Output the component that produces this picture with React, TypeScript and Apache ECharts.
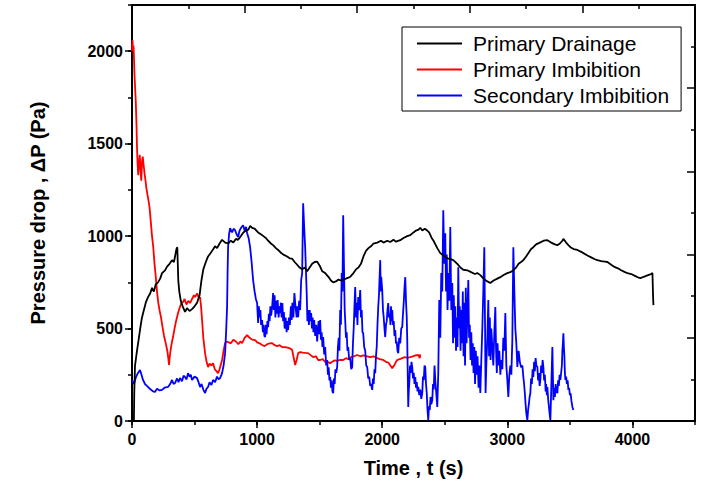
import React, { useEffect, useRef } from "react";
import * as echarts from "echarts";

// Time (s) and pressure drop (Pa) samples for each displacement stage
const primaryDrainage: [number, number][] = [
  [15, 0], [18, 150], [24, 300], [32, 340], [40, 380], [55, 450], [70, 520], [80, 560], [95, 600], [110, 640],
  [128, 670], [145, 690], [160, 720], [175, 700], [190, 740], [208, 750], [225, 770], [240, 800], [264, 815],
  [280, 835], [300, 850], [320, 870], [335, 860], [344, 890], [355, 930], [362, 940], [366, 850], [370, 760],
  [378, 700], [390, 650], [405, 620], [424, 590], [440, 610], [460, 595], [480, 605], [500, 620], [520, 640],
  [540, 680], [555, 760], [570, 820], [590, 860], [608, 890], [630, 910], [650, 930], [664, 945], [680, 935],
  [700, 960], [720, 980], [745, 965], [768, 960], [790, 975], [810, 965], [830, 985], [848, 980], [870, 1000],
  [890, 1020], [910, 1030], [930, 1035], [945, 1055], [960, 1045], [980, 1040], [1008, 1020], [1030, 1010],
  [1050, 1000], [1070, 990], [1088, 975], [1110, 960], [1130, 950], [1150, 935], [1168, 925], [1190, 910],
  [1210, 900], [1240, 890], [1260, 880], [1280, 878], [1300, 860], [1320, 845], [1340, 830], [1360, 820],
  [1380, 830], [1400, 810], [1420, 830], [1440, 850], [1460, 860], [1480, 862], [1500, 840], [1520, 810],
  [1544, 800], [1570, 780], [1590, 760], [1608, 750], [1630, 755], [1650, 765], [1670, 760], [1688, 765],
  [1710, 770], [1730, 775], [1744, 780], [1770, 800], [1790, 820], [1810, 830], [1830, 850], [1850, 890],
  [1870, 920], [1890, 935], [1910, 945], [1930, 960], [1960, 965], [1990, 975], [2010, 965], [2040, 975],
  [2064, 968], [2090, 980], [2110, 970], [2144, 978], [2170, 990], [2200, 1000], [2224, 1005], [2250, 1020],
  [2270, 1030], [2290, 1035], [2304, 1045], [2320, 1030], [2340, 1040], [2360, 1030], [2375, 1020],
  [2395, 990], [2410, 975], [2440, 935], [2464, 908], [2490, 895], [2520, 880], [2545, 875], [2568, 870],
  [2600, 850], [2625, 830], [2648, 818], [2680, 815], [2710, 805], [2740, 795], [2760, 800], [2784, 789],
  [2810, 770], [2840, 755], [2864, 746], [2890, 760], [2920, 770], [2944, 778], [2970, 790], [3000, 800],
  [3024, 805], [3048, 816], [3070, 830], [3090, 850], [3110, 860], [3128, 870], [3150, 890], [3170, 910],
  [3190, 930], [3208, 940], [3230, 955], [3260, 965], [3290, 975], [3320, 978], [3350, 965], [3380, 955],
  [3400, 951], [3420, 960], [3440, 975], [3448, 985], [3470, 965], [3490, 950], [3504, 940], [3530, 930],
  [3560, 925], [3590, 915], [3608, 908], [3640, 895], [3670, 885], [3700, 875], [3720, 870], [3750, 865],
  [3780, 862], [3800, 860], [3830, 845], [3860, 832], [3880, 827], [3910, 815], [3940, 805], [3960, 800],
  [3990, 795], [4020, 785], [4050, 775], [4064, 773], [4090, 780], [4110, 785], [4130, 790], [4150, 795],
  [4160, 800], [4163, 720], [4166, 650], [4168, 627],
];

const primaryImbibition: [number, number][] = [
  [0, 2000], [4, 2060], [8, 2010], [12, 2030], [16, 1960], [20, 1870], [25, 1800], [30, 1730], [36, 1600],
  [40, 1480], [44, 1400], [50, 1330], [56, 1400], [62, 1440], [68, 1360], [74, 1300], [80, 1400], [86, 1430],
  [92, 1390], [100, 1340], [108, 1300], [115, 1260], [122, 1230], [130, 1200], [140, 1157], [150, 1080],
  [160, 1000], [170, 940], [180, 850], [190, 780], [200, 700], [210, 640], [220, 600], [232, 560], [244, 508],
  [256, 460], [270, 420], [282, 380], [290, 340], [296, 303], [304, 360], [312, 400], [320, 430], [328, 454],
  [340, 500], [352, 540], [368, 584], [380, 610], [395, 640], [408, 643], [420, 660], [435, 630], [450, 650],
  [464, 638], [480, 660], [495, 680], [504, 670], [520, 690], [535, 665], [544, 670], [552, 620], [560, 546],
  [570, 450], [584, 367], [596, 320], [608, 292], [620, 310], [635, 300], [648, 313], [662, 280], [675, 270],
  [688, 259], [700, 280], [712, 310], [720, 330], [732, 380], [744, 421], [756, 430], [768, 427], [790, 420],
  [810, 440], [830, 430], [850, 415], [866, 430], [880, 421], [900, 450], [920, 465], [940, 450], [960, 440],
  [984, 438], [1000, 425], [1020, 420], [1040, 411], [1060, 405], [1080, 415], [1100, 420], [1120, 421],
  [1140, 410], [1160, 405], [1180, 410], [1200, 400], [1224, 400], [1250, 395], [1270, 390], [1280, 384],
  [1290, 350], [1304, 303], [1316, 330], [1328, 367], [1345, 373], [1365, 370], [1385, 368], [1408, 367],
  [1430, 355], [1448, 346], [1470, 350], [1488, 330], [1504, 330], [1525, 335], [1544, 319], [1565, 318],
  [1584, 313], [1600, 320], [1620, 328], [1640, 325], [1660, 330], [1688, 330], [1710, 340], [1730, 335],
  [1750, 345], [1775, 350], [1800, 357], [1825, 350], [1850, 355], [1880, 350], [1904, 346], [1930, 350],
  [1960, 340], [1980, 335], [2008, 330], [2030, 320], [2050, 315], [2065, 300], [2080, 286], [2095, 300],
  [2110, 320], [2120, 330], [2140, 335], [2160, 340], [2180, 345], [2200, 342], [2224, 346], [2245, 350],
  [2265, 355], [2288, 357], [2300, 340], [2304, 360],
];

const secondaryImbibition: [number, number][] = [
  [0, 222], [16, 200], [32, 238], [48, 260], [64, 276], [76, 250], [88, 222], [104, 200], [128, 184], [150, 170],
  [168, 160], [184, 157], [200, 175], [220, 165], [240, 168], [260, 180], [288, 184], [305, 200], [320, 222],
  [332, 200], [344, 205], [360, 230], [372, 210], [384, 232], [400, 215], [412, 245], [424, 238], [436, 225],
  [448, 259], [460, 240], [470, 250], [480, 222], [500, 240], [520, 232], [532, 210], [544, 184], [556, 200],
  [570, 170], [584, 151], [596, 175], [608, 184], [620, 210], [635, 195], [648, 222], [664, 210], [680, 240],
  [692, 225], [704, 232], [712, 245], [720, 259], [732, 300], [744, 367], [752, 480], [760, 616], [764, 800],
  [768, 940], [776, 1010], [784, 1043], [800, 1020], [812, 1040], [824, 1032], [836, 1010], [848, 995],
  [860, 1030], [872, 1045], [888, 1059], [900, 1030], [912, 1050], [920, 1016], [932, 990], [944, 940],
  [956, 860], [968, 762], [980, 700], [990, 660], [1000, 638], [1008, 530], [1014, 620], [1020, 560],
  [1026, 600], [1032, 520], [1040, 546], [1046, 480], [1052, 520], [1058, 460], [1064, 454], [1070, 520],
  [1076, 470], [1082, 540], [1088, 508], [1094, 580], [1100, 540], [1106, 620], [1112, 570], [1120, 616],
  [1128, 692], [1134, 600], [1140, 680], [1146, 560], [1152, 650], [1158, 580], [1164, 654], [1172, 560],
  [1178, 620], [1184, 584], [1190, 640], [1196, 560], [1202, 638], [1208, 540], [1214, 590], [1220, 500],
  [1228, 560], [1236, 480], [1242, 540], [1248, 492], [1254, 560], [1262, 520], [1270, 620], [1276, 546],
  [1282, 640], [1290, 560], [1298, 692], [1304, 640], [1310, 600], [1316, 560], [1322, 620], [1328, 562],
  [1336, 650], [1344, 600], [1352, 760], [1360, 800], [1368, 1178], [1376, 1050], [1384, 940], [1396, 700],
  [1402, 540], [1408, 600], [1414, 520], [1420, 600], [1426, 540], [1432, 584], [1438, 500], [1444, 560],
  [1450, 480], [1456, 546], [1464, 460], [1472, 520], [1480, 430], [1486, 500], [1492, 540], [1498, 470],
  [1504, 546], [1510, 440], [1516, 480], [1522, 400], [1528, 454], [1536, 360], [1544, 400], [1552, 300],
  [1560, 330], [1566, 250], [1572, 290], [1578, 220], [1584, 238], [1590, 180], [1596, 220], [1602, 160],
  [1608, 151], [1614, 230], [1620, 200], [1626, 280], [1632, 260], [1640, 292], [1646, 400], [1652, 450],
  [1658, 380], [1664, 600], [1670, 520], [1676, 800], [1682, 700], [1688, 1113], [1694, 850], [1700, 600],
  [1704, 546], [1710, 450], [1716, 480], [1722, 380], [1728, 400], [1736, 330], [1744, 340], [1752, 280],
  [1760, 292], [1766, 420], [1772, 500], [1778, 620], [1784, 724], [1790, 560], [1796, 640], [1802, 520],
  [1808, 670], [1816, 600], [1824, 708], [1830, 560], [1836, 600], [1842, 480], [1848, 475], [1856, 400],
  [1864, 380], [1872, 300], [1880, 292], [1888, 230], [1896, 240], [1904, 190], [1910, 200], [1920, 168],
  [1926, 230], [1932, 200], [1938, 280], [1944, 259], [1950, 350], [1956, 400], [1962, 520], [1968, 616],
  [1974, 680], [1978, 760], [1984, 870], [1988, 700], [1992, 780], [2000, 708], [2006, 600], [2012, 560],
  [2018, 500], [2024, 454], [2030, 520], [2036, 540], [2042, 600], [2048, 638], [2054, 560], [2060, 580],
  [2066, 520], [2070, 620], [2076, 540], [2080, 600], [2086, 520], [2092, 540], [2098, 460], [2104, 492],
  [2110, 420], [2116, 430], [2122, 380], [2128, 367], [2136, 450], [2144, 420], [2152, 500], [2160, 508],
  [2166, 580], [2172, 640], [2178, 720], [2184, 778], [2190, 650], [2196, 560], [2200, 438], [2204, 250],
  [2208, 76], [2212, 160], [2216, 200], [2222, 300], [2228, 260], [2234, 320], [2240, 292], [2246, 230],
  [2252, 260], [2258, 200], [2264, 238], [2270, 180], [2276, 210], [2282, 160], [2288, 184], [2296, 140],
  [2304, 170], [2312, 120], [2320, 151], [2326, 240], [2332, 220], [2338, 300], [2344, 292], [2350, 200],
  [2356, 150], [2362, 60], [2368, 5], [2374, 80], [2380, 60], [2386, 130], [2392, 90], [2400, 113],
  [2406, 200], [2412, 170], [2418, 300], [2424, 222], [2432, 150], [2440, 76], [2448, 260], [2456, 654],
  [2464, 450], [2472, 800], [2480, 700], [2488, 1140], [2496, 850], [2504, 1016], [2510, 700], [2516, 900],
  [2522, 600], [2528, 800], [2536, 650], [2544, 1049], [2552, 600], [2560, 746], [2566, 420], [2572, 680],
  [2578, 450], [2584, 620], [2590, 380], [2596, 560], [2602, 400], [2608, 832], [2614, 500], [2620, 620],
  [2626, 380], [2632, 600], [2638, 420], [2644, 700], [2650, 350], [2656, 640], [2662, 300], [2668, 720],
  [2674, 420], [2680, 560], [2688, 762], [2694, 450], [2700, 520], [2706, 330], [2712, 480], [2718, 300],
  [2724, 420], [2730, 260], [2736, 400], [2742, 200], [2748, 380], [2756, 250], [2762, 350], [2770, 180],
  [2776, 300], [2784, 151], [2792, 330], [2800, 500], [2808, 700], [2816, 940], [2822, 500], [2826, 151],
  [2832, 300], [2840, 450], [2848, 654], [2854, 350], [2860, 560], [2866, 330], [2872, 500], [2880, 400],
  [2888, 300], [2896, 480], [2904, 616], [2910, 380], [2916, 260], [2922, 420], [2928, 300], [2936, 380],
  [2944, 250], [2952, 330], [2960, 280], [2968, 450], [2976, 380], [2984, 584], [2992, 300], [3000, 222],
  [3008, 130], [3016, 250], [3024, 300], [3032, 250], [3040, 438], [3048, 940], [3056, 700], [3064, 500],
  [3072, 420], [3080, 292], [3090, 380], [3100, 320], [3110, 290], [3120, 300], [3128, 238], [3134, 200],
  [3140, 150], [3146, 90], [3152, 40], [3160, 5], [3166, 60], [3172, 90], [3178, 130], [3184, 151],
  [3190, 230], [3196, 200], [3202, 280], [3208, 238], [3214, 320], [3220, 270], [3226, 340], [3232, 300],
  [3240, 292], [3246, 220], [3252, 260], [3258, 190], [3264, 222], [3270, 300], [3276, 260], [3282, 330],
  [3288, 292], [3294, 220], [3300, 250], [3306, 160], [3310, 200], [3316, 140], [3320, 184], [3326, 120],
  [3332, 80], [3338, 40], [3344, 5], [3348, 100], [3352, 200], [3356, 300], [3360, 400], [3364, 250],
  [3368, 113], [3374, 180], [3380, 130], [3386, 200], [3392, 160], [3400, 151], [3406, 220], [3412, 190],
  [3418, 250], [3424, 222], [3430, 260], [3436, 300], [3440, 380], [3444, 420], [3448, 475], [3452, 400],
  [3456, 350], [3460, 260], [3464, 222], [3470, 240], [3476, 200], [3482, 220], [3488, 168], [3494, 180],
  [3500, 140], [3506, 150], [3512, 110], [3520, 76], [3528, 59],
];

const seriesNames = ["Primary Drainage", "Primary Imbibition", "Secondary Imbibition"];
const seriesColors = ["#000000", "#ff0000", "#0000ff"];
const timeTicks = { min: 0, max: 4500, major: 1000, minor: 500 };
const pressureTicks = { min: 0, max: 2250, major: 500, minor: 250 };

const FONT = "'Liberation Sans', Arial, sans-serif";

export default function App() {
  const ref = useRef<HTMLDivElement>(null);

  useEffect(() => {
    if (!ref.current) return;
    const chart = echarts.init(ref.current, undefined, { renderer: "svg" });

    const frameLine = { show: true, onZero: false, lineStyle: { color: "#000", width: 2 } };
    const tickLine = { color: "#000", width: 1.5 };
    const tickLabel = {
      fontSize: 16,
      fontWeight: "bold",
      color: "#000",
      fontFamily: FONT,
      formatter: (v: number) => String(v),
    };
    const titleStyle = { fontSize: 20, fontWeight: "bold", color: "#000", fontFamily: FONT };

    const data = [primaryDrainage, primaryImbibition, secondaryImbibition];

    chart.setOption({
      animation: false,
      backgroundColor: "#fff",
      grid: { left: 132, right: 17, top: 5, bottom: 73, containLabel: false },
      legend: {
        orient: "vertical",
        left: 402,
        top: 27,
        padding: [6, 12, 5, 15],
        itemWidth: 45,
        itemHeight: 2,
        itemGap: 5,
        borderColor: "#000",
        borderWidth: 1,
        backgroundColor: "#fff",
        borderRadius: 0,
        data: seriesNames.map((name) => ({ name, icon: "rect" })),
        textStyle: { fontSize: 21, lineHeight: 21, color: "#000", fontFamily: FONT, padding: [0, 0, 0, 6] },
      },
      xAxis: [
        {
          type: "value",
          position: "bottom",
          min: timeTicks.min,
          max: timeTicks.max,
          interval: timeTicks.major,
          name: "Time , t (s)",
          nameLocation: "middle",
          nameGap: 37,
          nameTextStyle: titleStyle,
          axisLine: frameLine,
          axisTick: { show: true, length: 7, lineStyle: tickLine },
          axisLabel: { ...tickLabel, margin: 10, showMaxLabel: false },
          splitLine: { show: false },
        },
        {
          type: "value",
          position: "bottom",
          min: timeTicks.min,
          max: timeTicks.max,
          interval: timeTicks.minor,
          axisLine: { show: false, onZero: false },
          axisTick: { show: true, length: 4, lineStyle: tickLine },
          axisLabel: { show: false },
          splitLine: { show: false },
        },
        {
          type: "value",
          position: "top",
          min: 0,
          max: 5,
          interval: 1,
          axisLine: frameLine,
          axisTick: { show: true, inside: true, length: 8, lineStyle: tickLine },
          minorTick: { show: true, splitNumber: 2, length: 4, lineStyle: tickLine },
          axisLabel: { show: false },
          splitLine: { show: false },
        },
      ],
      yAxis: [
        {
          type: "value",
          position: "left",
          min: pressureTicks.min,
          max: pressureTicks.max,
          interval: pressureTicks.major,
          name: "Pressure drop , \u0394P (Pa)",
          nameLocation: "middle",
          nameGap: 84,
          nameTextStyle: titleStyle,
          axisLine: frameLine,
          axisTick: { show: true, length: 7, lineStyle: tickLine },
          axisLabel: { ...tickLabel, margin: 9, showMaxLabel: false },
          splitLine: { show: false },
        },
        {
          type: "value",
          position: "left",
          min: pressureTicks.min,
          max: pressureTicks.max,
          interval: pressureTicks.minor,
          axisLine: { show: false, onZero: false },
          axisTick: { show: true, length: 4, lineStyle: tickLine },
          axisLabel: { show: false },
          splitLine: { show: false },
        },
        {
          type: "value",
          position: "right",
          min: 0,
          max: 5,
          interval: 1,
          axisLine: frameLine,
          axisTick: { show: true, inside: true, length: 8, lineStyle: tickLine },
          minorTick: { show: true, splitNumber: 2, length: 4, lineStyle: tickLine },
          axisLabel: { show: false },
          splitLine: { show: false },
        },
      ],
      series: seriesNames.map((name, i) => ({
        name,
        type: "line",
        xAxisIndex: 0,
        yAxisIndex: 0,
        data: data[i],
        symbol: "none",
        showSymbol: false,
        clip: true,
        z: i === 2 ? 3 : i === 1 ? 2 : 4,
        lineStyle: { color: seriesColors[i], width: 1.8 },
        itemStyle: { color: seriesColors[i] },
      })),
    });

    return () => chart.dispose();
  }, []);

  return (
    <div
      ref={ref}
      style={{ position: "fixed", left: 0, top: 0, width: 712, height: 494, background: "#fff" }}
    />
  );
}
